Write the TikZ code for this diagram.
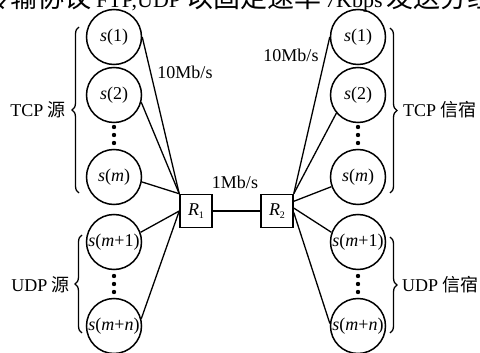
\documentclass[tikz,border=0pt]{standalone}
\usepackage{fontspec}
\setmainfont{Liberation Serif}
\newfontfamily\cjk{Noto Sans CJK SC}
\usetikzlibrary{decorations.pathreplacing}
\newcommand\topcjk{\cjk\fontsize{27}{30}\selectfont}
\newcommand\toplat{\rmfamily\fontsize{22}{26}\selectfont}
\begin{document}
\begin{tikzpicture}[x=1pt,y=-1pt,
  src/.style={circle,draw,line width=1.5pt,minimum size=55pt,inner sep=0pt,font=\fontsize{18}{20}\selectfont},
  router/.style={rectangle,draw,line width=1.5pt,minimum width=32pt,minimum height=33pt,inner sep=0pt,font=\fontsize{18}{20}\selectfont},
  link/.style={line width=1.3pt},
  brcL/.style={decorate,decoration={brace,amplitude=7pt},line width=1.3pt},
  lab/.style={font=\fontsize{18}{20}\selectfont,inner sep=0pt}]
\useasboundingbox (0,0) rectangle (480,353);
\clip (0,0) rectangle (480,353);
% clipped line of text at the top
\node[anchor=base west,inner sep=0pt] (topline) at (-17,8) {\topcjk 传输协议\hspace{5pt}\toplat FTP,UDP\hspace{5pt}\topcjk 以固定速率\hspace{4pt}\toplat 7Kbps\hspace{4pt}\topcjk 发送分组};
% left column
\node[src] (a1) at (114,37) {\textit{s}(1)};
\node[src] (a2) at (114,95) {\textit{s}(2)};
\node[src] (am) at (114,177) {\textit{s}(\textit{m})};
\node[src] (am1) at (114,242) {\textit{s}(\textit{m}+1)};
\node[src] (amn) at (114,326) {\textit{s}(\textit{m}+\textit{n})};
% right column
\node[src] (b1) at (358,37) {\textit{s}(1)};
\node[src] (b2) at (358,95) {\textit{s}(2)};
\node[src] (bm) at (358,177) {\textit{s}(\textit{m})};
\node[src] (bm1) at (358,242) {\textit{s}(\textit{m}+1)};
\node[src] (bmn) at (358,326) {\textit{s}(\textit{m}+\textit{n})};
% routers
\node[router] (R1) at (196,211) {\textit{R}\raisebox{-0.3ex}{\fontsize{10}{12}\selectfont 1}};
\node[router] (R2) at (277,211) {\textit{R}\raisebox{-0.3ex}{\fontsize{10}{12}\selectfont 2}};
% dots
\foreach \y in {127,135,143} {\fill (114,\y) circle (2.2pt); \fill (358,\y) circle (2.2pt);}
\foreach \y in {276,284,292} {\fill (114,\y) circle (2.2pt); \fill (358,\y) circle (2.2pt);}
% links
\draw[link] (a1.east) -- (R1.north west);
\draw[link] (a2.-15) -- (R1.north west);
\draw[link] (am.-10) -- (R1.north west);
\draw[link] (am1.20) -- (R1.west);
\draw[link] (amn.15) -- (R1.west);
\draw[link] (R1.east) -- (R2.west);
\draw[link] (R2.north east) -- (b1.west);
\draw[link] (R2.north east) -- (b2.220);
\draw[link] (R2.30) -- (bm.200);
\draw[link] (R2.10) -- (bm1.160);
\draw[link] (R2.-5) -- (bmn.175);
% braces
\draw[brcL] (79,193) -- (79,27);
\draw[brcL] (82,333) -- (82,235);
\draw[brcL] (390,28) -- (390,193);
\draw[brcL] (390,237) -- (390,333);
% labels
\node[lab,anchor=east] (tcps) at (66,110) {TCP {\cjk 源}};
\node[lab,anchor=east] (udps) at (70,285) {UDP {\cjk 源}};
\node[lab,anchor=west] (tcpd) at (403,110) {TCP {\cjk 信宿}};
\node[lab,anchor=west] (udpd) at (402,285) {UDP {\cjk 信宿}};
\node[lab] (bw1) at (185,72) {10Mb/s};
\node[lab] (bw2) at (291,55) {10Mb/s};
\node[lab] (bw3) at (235,182) {1Mb/s};
\end{tikzpicture}
\end{document}
